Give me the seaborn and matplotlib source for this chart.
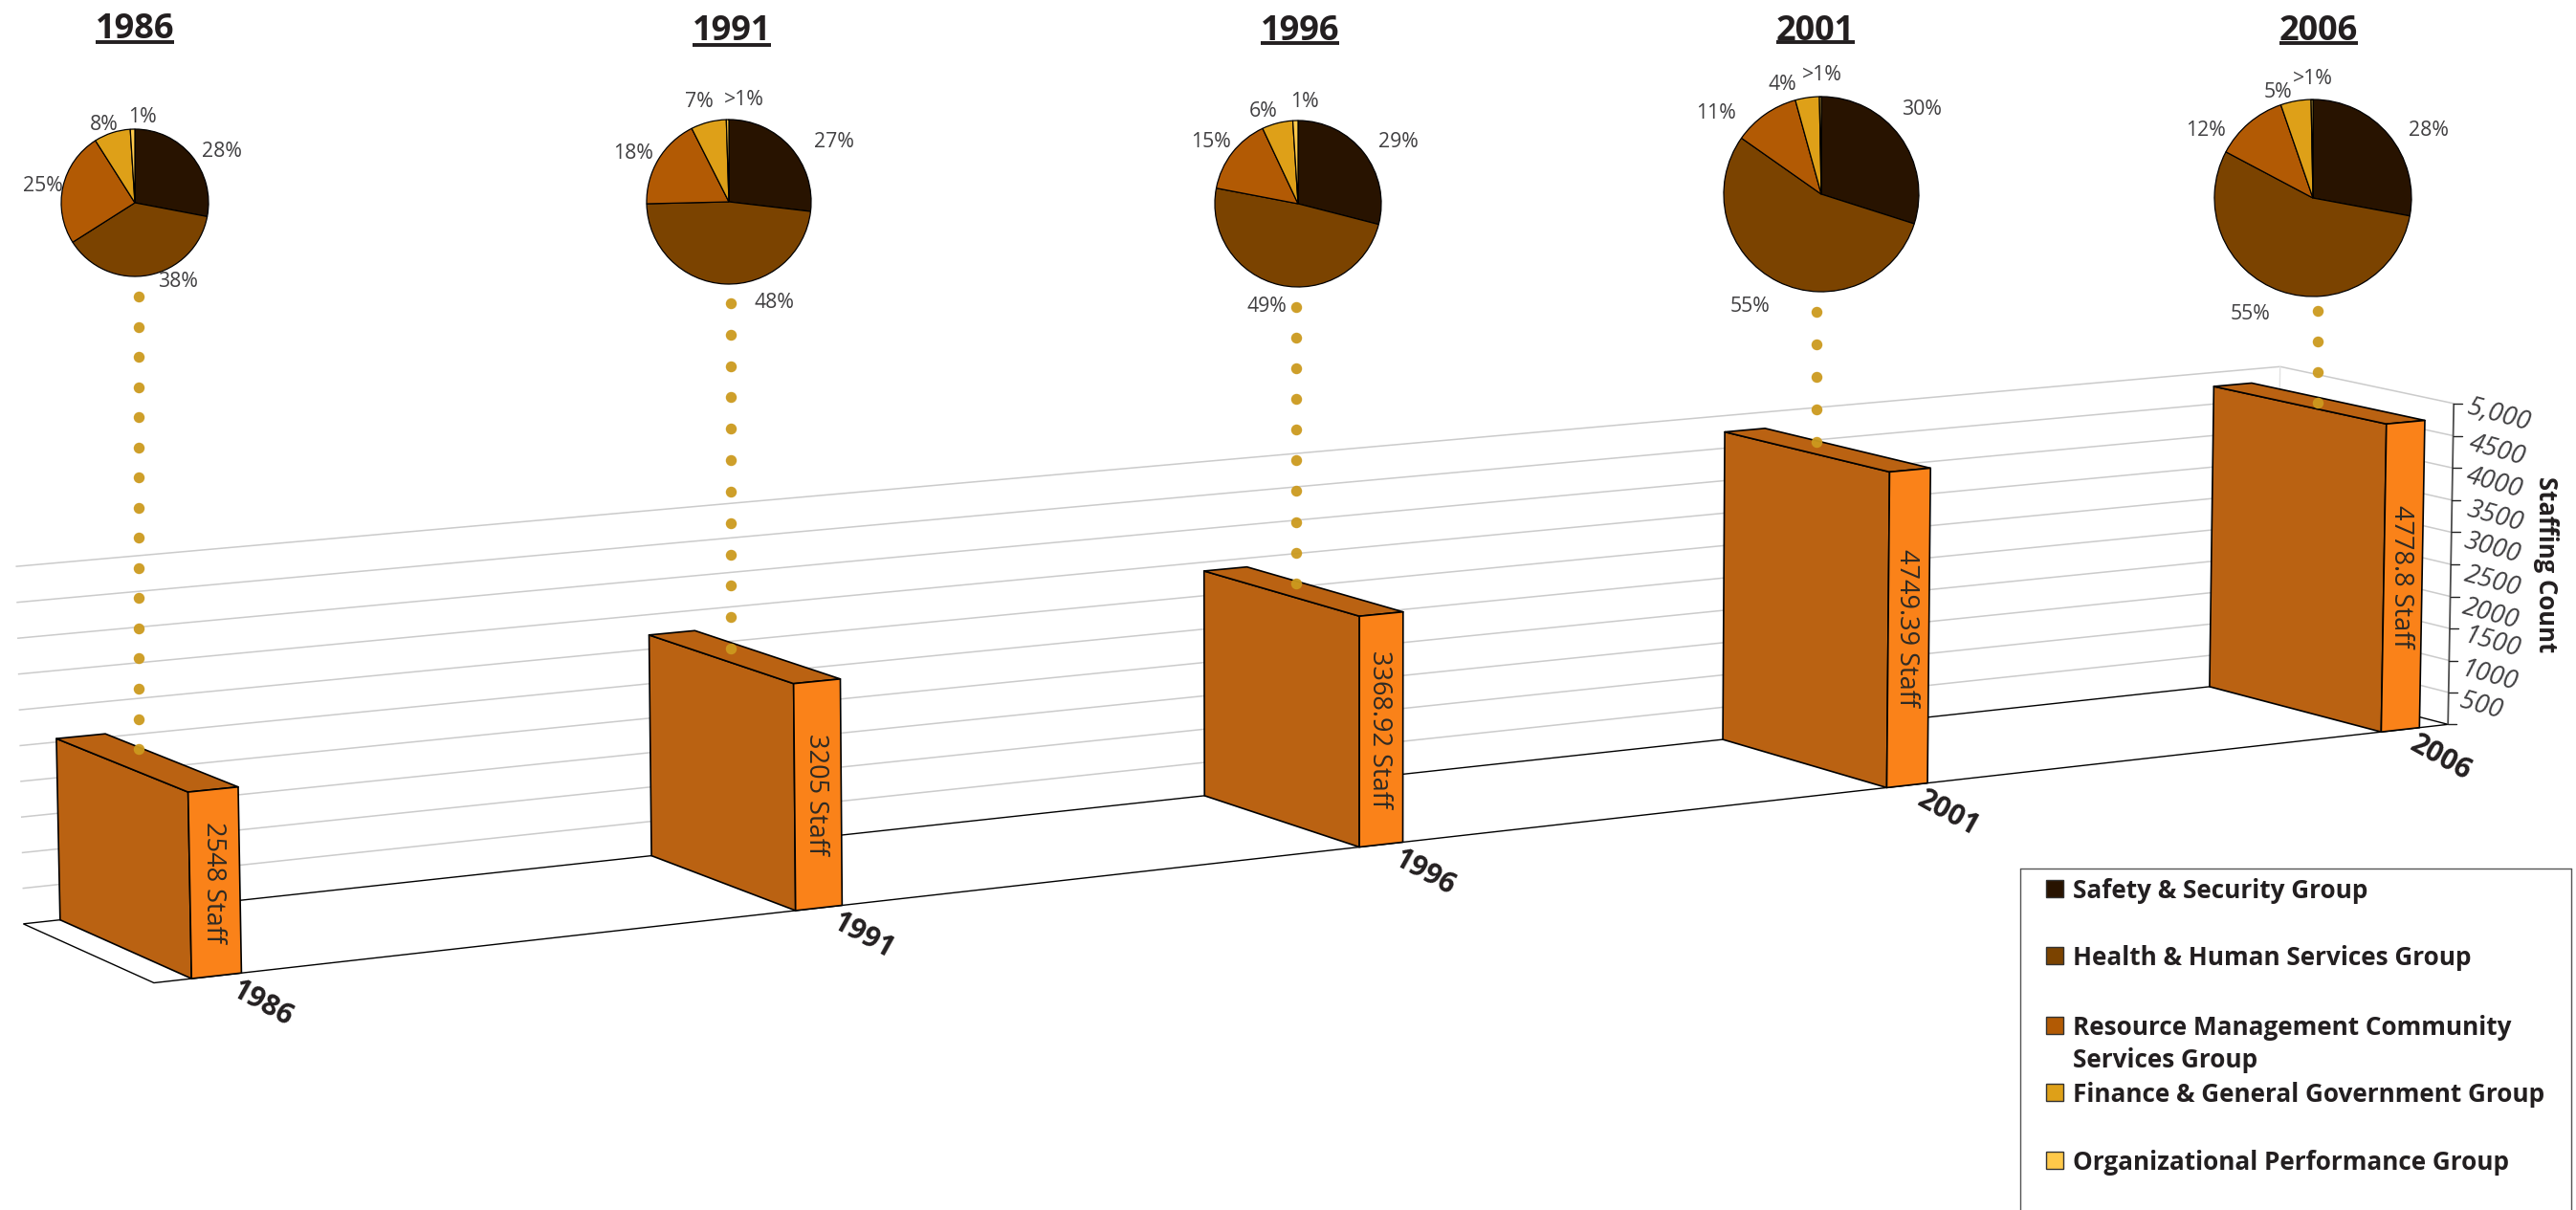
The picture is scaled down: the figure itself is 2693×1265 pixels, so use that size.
import numpy as np
import matplotlib
matplotlib.use("Agg")
import matplotlib.pyplot as plt
from matplotlib.patches import Polygon, Rectangle
import seaborn as sns

# ---------- data ----------
YEARS = [1986, 1991, 1996, 2001, 2006]
STAFF = [2548, 3205, 3368.92, 4749.39, 4778.8]
STAFF_LABELS = ["2548 Staff", "3205 Staff", "3368.92 Staff", "4749.39 Staff", "4778.8 Staff"]
GROUPS = ["Safety & Security Group", "Health & Human Services Group",
          "Resource Management Community\nServices Group",
          "Finance & General Government Group", "Organizational Performance Group"]
SAFETY = [28, 27, 29, 30, 28]
HEALTH = [38, 48, 49, 55, 55]
RESOURCE = [25, 18, 15, 11, 12]
FINANCE = [8, 7, 6, 4, 5]
ORGANIZATIONAL = [1, 0.5, 1, 0.3, 0.3]
SLICE_TEXT = [["28%", "38%", "25%", "8%", "1%"],
              ["27%", "48%", "18%", "7%", ">1%"],
              ["29%", "49%", "15%", "6%", "1%"],
              ["30%", "55%", "11%", "4%", ">1%"],
              ["28%", "55%", "12%", "5%", ">1%"]]
VALUE_TICKS = [500, 1000, 1500, 2000, 2500, 3000, 3500, 4000, 4500, 5000]
VALUE_TICK_TEXT = ["500", "1000", "1500", "2000", "2500", "3000", "3500", "4000", "4500", "5,000"]

# ---------- layout and style ----------
W, H = 2693, 1265
YEAR_MIN, YEAR_MAX, VALUE_MAX = 1985.5, 2006.5, 5000
BAR_W = 0.4
CAMERA = np.array([[2782.8485, -135.811056, -8.227717, 160.911851],
                   [-156.382895, -32.529204, -388.419054, 1027.523972],
                   [0.15028, 0.03018, -0.005918, 1.0]])
PIE_CENTRES = [(141, 212), (762, 211), (1357, 213), (1904, 203), (2418, 207)]
PIE_RADII = [77, 86, 87, 102, 103]
SLICE_TEXT_OFFSETS = [[(90, -55), (44, 82), (-97, -18), (-33, -82), (7, -90)],
                      [(109, -63), (46, 105), (-101, -51), (-32, -105), (15, -108)],
                      [(104, -65), (-34, 106), (-92, -66), (-37, -98), (6, -108)],
                      [(104, -89), (-75, 116), (-111, -86), (-42, -116), (0, -125)],
                      [(120, -71), (-66, 121), (-113, -72), (-37, -112), (-1, -125)]]
TITLE_X = [141, 765, 1359, 1898, 2424]
TITLE_Y = [31, 33, 33, 33, 33]
RULE_Y = [44, 47, 45, 44, 45]
DOT_COUNTS = [16, 12, 10, 5, 4]
DOT_TOPS = [310, 317, 321, 326, 325]
DOT_ACROSS = [0.92, 0.70, 0.88, 0.90, 0.53]
DOT_DEPTH = [0.715, 0.65, 0.644, 0.66, 0.51]
TICK_TEXT_XY = [(2594, 738), (2602, 707), (2605, 672), (2604, 642), (2606, 608),
                (2605, 573), (2608, 540), (2608, 505), (2611, 471), (2612, 434)]
PIE_COLOURS = ["#281300", "#7B4300", "#B25A04", "#DEA018", "#FFC94A"]
SIDE, FRONT, GOLD, GRID = "#BA6212", "#FA8219", "#CC9A1E", "#CBCBCB"
INK, SOFT = "#231F20", "#414042"
LEGEND_Y = [929, 999, 1072, 1142, 1213]
FONT = "Open Sans"

sns.set_theme(style="white")
plt.rcParams["font.family"] = [FONT, "DejaVu Sans"]

fig = plt.figure(figsize=(W / 100, H / 100), dpi=100, facecolor="white")
ax = fig.add_axes([0, 0, 1, 1])
ax.set_xlim(0, W)
ax.set_ylim(H, 0)
ax.axis("off")


def project(year, depth, value):
    u = (np.asarray(year, float) - YEAR_MIN) / (YEAR_MAX - YEAR_MIN)
    v = np.asarray(value, float) / VALUE_MAX
    q = CAMERA @ np.array([u, depth * np.ones_like(u), v, np.ones_like(u)], float)
    return q[0] / q[2], q[1] / q[2]


def seg(p, q, **kw):
    ax.plot([p[0], q[0]], [p[1], q[1]], solid_capstyle="butt", **kw)


# grid on the two walls
for t in VALUE_TICKS:
    seg(project(YEAR_MIN, 1, t), project(YEAR_MAX, 1, t), color=GRID, lw=1.1, zorder=1)
    seg(project(YEAR_MAX, 1, t), project(YEAR_MAX, 0, t), color=GRID, lw=1.1, zorder=1)
seg(project(YEAR_MAX, 1, 0), project(YEAR_MAX, 1, VALUE_MAX), color="#E2E2E2", lw=1.0, zorder=1)

# floor
floor = [project(YEAR_MIN, 0, 0), project(YEAR_MAX, 0, 0), project(YEAR_MAX, 1, 0), project(YEAR_MIN, 1, 0)]
ax.add_patch(Polygon(floor, closed=True, facecolor="none", edgecolor="black", lw=1.0, zorder=2))

# value axis
seg(project(YEAR_MAX, 0, 0), project(YEAR_MAX, 0, VALUE_MAX), color="#4D4D4D", lw=1.3, zorder=2)
for t in [0] + VALUE_TICKS:
    x0, y0 = project(YEAR_MAX, 0, t)
    ax.plot([x0, x0 + 9], [y0, y0], color="#222222", lw=1.0, zorder=2)
for txt, (x0, y0) in zip(VALUE_TICK_TEXT, TICK_TEXT_XY):
    ax.text(x0, y0, txt, fontsize=19.5, style="italic", color=SOFT, rotation=-15.5,
            rotation_mode="anchor", ha="center", va="center", zorder=3)
ax.text(2661, 590, "Staffing Count", fontsize=18.5, fontweight="bold", color=INK,
        rotation=-90, ha="center", va="center", zorder=3)

# bars
for i, (year, val) in enumerate(zip(YEARS, STAFF)):
    l, r = year - BAR_W / 2, year + BAR_W / 2
    side = [project(l, 0, 0), project(l, 1, 0), project(l, 1, val), project(l, 0, val)]
    top = [project(l, 0, val), project(l, 1, val), project(r, 1, val), project(r, 0, val)]
    front = [project(l, 0, 0), project(r, 0, 0), project(r, 0, val), project(l, 0, val)]
    for poly, colour in ((side, SIDE), (top, SIDE), (front, FRONT)):
        ax.add_patch(Polygon(poly, closed=True, facecolor=colour, edgecolor="black",
                             lw=1.2, joinstyle="round", zorder=4))
    cx, cy = project(year, 0, val / 2)
    ax.text(cx - 2, cy, STAFF_LABELS[i], fontsize=19.5, color="#2F2A24", rotation=-90,
            ha="center", va="center", zorder=6)
    bx, by = project(r, 0, 0)
    ax.text(bx + 22, by + 32, str(year), fontsize=21.5, fontweight="bold", color=INK,
            rotation=-29, rotation_mode="anchor", ha="center", va="center", zorder=6)

    # dotted connector from the pie down to the bar
    ex, ey = project(l + BAR_W * DOT_ACROSS[i], DOT_DEPTH[i], val)
    ys = np.linspace(DOT_TOPS[i], ey, DOT_COUNTS[i])
    sns.scatterplot(x=np.full_like(ys, ex), y=ys, ax=ax, color=GOLD, s=68, linewidth=0,
                    alpha=0.95, legend=False, zorder=7)

ax.set_xlim(0, W)
ax.set_ylim(H, 0)
ax.axis("off")

# pies
series = np.array([SAFETY, HEALTH, RESOURCE, FINANCE, ORGANIZATIONAL], float)
renderer = fig.canvas.get_renderer()
for i, year in enumerate(YEARS):
    (cx, cy), rad = PIE_CENTRES[i], PIE_RADII[i]
    pad = rad + 2
    pax = fig.add_axes([(cx - pad) / W, 1 - (cy + pad) / H, 2 * pad / W, 2 * pad / H])
    pax.pie(series[:, i], colors=PIE_COLOURS, startangle=90, counterclock=False, radius=rad,
            wedgeprops=dict(edgecolor="black", linewidth=0.9))
    pax.set_xlim(-pad, pad)
    pax.set_ylim(-pad, pad)
    pax.patch.set_alpha(0)
    for txt, (dx, dy) in zip(SLICE_TEXT[i], SLICE_TEXT_OFFSETS[i]):
        ax.text(cx + dx + 1, cy + dy + 1, txt, fontsize=15.3, color=SOFT, ha="center", va="center", zorder=6)
    t = ax.text(TITLE_X[i], TITLE_Y[i], str(year), fontsize=26, fontweight="bold", color=INK,
                ha="center", va="center", zorder=6)
    half = t.get_window_extent(renderer).width / 2
    ax.plot([TITLE_X[i] - half, TITLE_X[i] + half], [RULE_Y[i], RULE_Y[i]], color=INK, lw=2.8,
            solid_capstyle="butt", zorder=6)

# legend, open at the bottom where it runs off the figure
ax.plot([2112, 2112], [H, 908], color="#555555", lw=1.0, zorder=8)
ax.plot([2112, 2688], [908, 908], color="#555555", lw=1.0, zorder=8)
ax.plot([2688, 2688], [908, 908 + H], color="#555555", lw=1.0, zorder=8)
for name, colour, y in zip(GROUPS, PIE_COLOURS, LEGEND_Y):
    ax.add_patch(Rectangle((2139, y - 9), 18, 18, facecolor=colour, edgecolor="#333333", lw=1.0, zorder=8))
    ax.text(2167, y - 11, name, fontsize=18.8, fontweight="bold", color=INK, ha="left", va="top",
            linespacing=1.32, zorder=8)

fig.savefig("out.png", dpi=100, facecolor="white")
